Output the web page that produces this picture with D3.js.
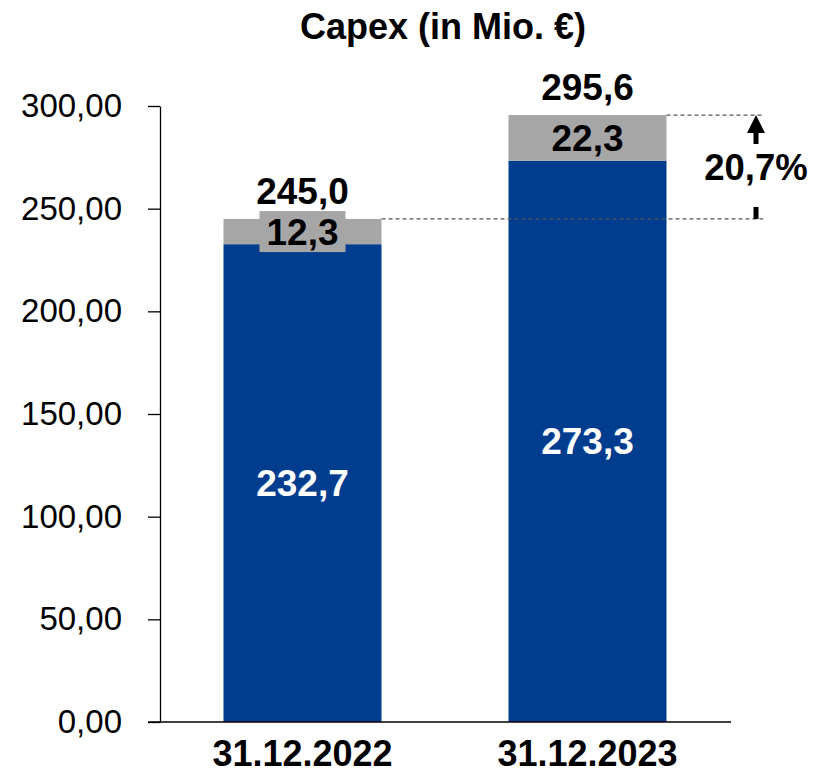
<!DOCTYPE html>
<html>
<head>
<meta charset="utf-8">
<script src="https://cdn.jsdelivr.net/npm/d3@7"></script>
<style>
  body { margin: 0; background: #fff; }
  text { font-family: "Liberation Sans", Arial, sans-serif; }
</style>
</head>
<body>
<script>
// data
const categories = ["31.12.2022", "31.12.2023"];
const capexBase = [232.7, 273.3];
const capexExtra = [12.3, 22.3];
const totals = [245.0, 295.6];
const yTicks = [0, 50, 100, 150, 200, 250, 300];
const growthLabel = "20,7%";

const width = 813;
const height = 776;
const blue = "#003d8f";
const grey = "#a6a6a6";

const de = d3.formatLocale({decimal: ",", thousands: ".", grouping: [3], currency: ["", " €"]});
const fmt2 = de.format(".2f");
const fmt1 = de.format(".1f");

const svg = d3.select("body").append("svg")
  .attr("width", width)
  .attr("height", height);

const x = d3.scaleBand().domain(categories).range([160, 730]).padding(0);
const barW = 158;
const y = d3.scaleLinear().domain([0, 300]).range([722, 106]);

// title
svg.append("text")
  .attr("x", 443).attr("y", 39)
  .attr("text-anchor", "middle")
  .style("font-size", "36px").style("font-weight", "bold")
  .text("Capex (in Mio. €)");

// y axis
const yAxis = svg.append("g")
  .attr("transform", "translate(160,0)")
  .call(d3.axisLeft(y).tickValues(yTicks).tickFormat(fmt2).tickSize(12).tickSizeOuter(0).tickPadding(26));
yAxis.selectAll("text").style("font-size", "33px").attr("fill", "#000").attr("font-family", null);
yAxis.selectAll("line, path").attr("stroke", "#000").attr("stroke-width", 1.3);

const bars = svg.append("g");
categories.forEach((c, i) => {
  const cx = x(c) + x.bandwidth() / 2;
  bars.append("rect")
    .attr("x", cx - barW / 2).attr("width", barW)
    .attr("y", y(capexBase[i])).attr("height", y(0) - y(capexBase[i]))
    .attr("fill", blue);
  bars.append("rect")
    .attr("x", cx - barW / 2).attr("width", barW)
    .attr("y", y(totals[i])).attr("height", y(capexBase[i]) - y(totals[i]))
    .attr("fill", grey);
});

// baseline
svg.append("line")
  .attr("x1", 148).attr("x2", 731)
  .attr("y1", y(0)).attr("y2", y(0))
  .attr("stroke", "#000").attr("stroke-width", 1.3);

// category labels
categories.forEach((c) => {
  svg.append("text")
    .attr("x", x(c) + x.bandwidth() / 2).attr("y", 766)
    .attr("text-anchor", "middle")
    .style("font-size", "36px").style("font-weight", "bold")
    .text(c);
});

// dashed helper lines
const dash = svg.append("g")
  .attr("stroke", "#555").attr("stroke-width", 1.2).attr("stroke-dasharray", "4,3");
dash.append("line")
  .attr("x1", x(categories[0]) + x.bandwidth() / 2 + barW / 2).attr("x2", 763)
  .attr("y1", y(totals[0])).attr("y2", y(totals[0]));
dash.append("line")
  .attr("x1", x(categories[1]) + x.bandwidth() / 2 + barW / 2).attr("x2", 763)
  .attr("y1", y(totals[1])).attr("y2", y(totals[1]));

// value labels
const labels = svg.append("g").style("font-weight", "bold").style("font-size", "37px")
  .attr("text-anchor", "middle");
categories.forEach((c, i) => {
  const cx = x(c) + x.bandwidth() / 2;
  labels.append("text")
    .attr("x", cx).attr("y", (y(capexBase[i]) + y(0)) / 2)
    .attr("dy", "0.35em").attr("fill", "#fff")
    .text(fmt1(capexBase[i]));

  const gy = (y(capexBase[i]) + y(totals[i])) / 2;
  const t = labels.append("text")
    .attr("x", cx).attr("y", gy)
    .attr("dy", "0.35em").attr("fill", "#000")
    .text(fmt1(capexExtra[i]));
  const bb = t.node().getBBox();
  labels.insert("rect", () => t.node())
    .attr("x", bb.x - 7).attr("width", bb.width + 14)
    .attr("y", gy - 20.5).attr("height", 41)
    .attr("fill", grey);

  labels.append("text")
    .attr("x", cx).attr("y", y(totals[i]) - 15)
    .attr("fill", "#000")
    .text(fmt1(totals[i]));
});

// growth arrow
const ax = 756;
const yTop = y(totals[1]);
const yBot = y(totals[0]);
svg.append("path")
  .attr("d", `M${ax},${yTop} L${ax + 9},${yTop + 18} L${ax + 2.5},${yTop + 18} L${ax + 2.5},${yTop + 29} L${ax - 2.5},${yTop + 29} L${ax - 2.5},${yTop + 18} L${ax - 9},${yTop + 18} Z`)
  .attr("fill", "#000");
svg.append("rect")
  .attr("x", ax - 2.5).attr("width", 5)
  .attr("y", yBot - 12).attr("height", 12)
  .attr("fill", "#000");
svg.append("text")
  .attr("x", ax).attr("y", (yTop + yBot) / 2 + 13)
  .attr("text-anchor", "middle")
  .style("font-size", "36.5px").style("font-weight", "bold")
  .text(growthLabel);
</script>
</body>
</html>
